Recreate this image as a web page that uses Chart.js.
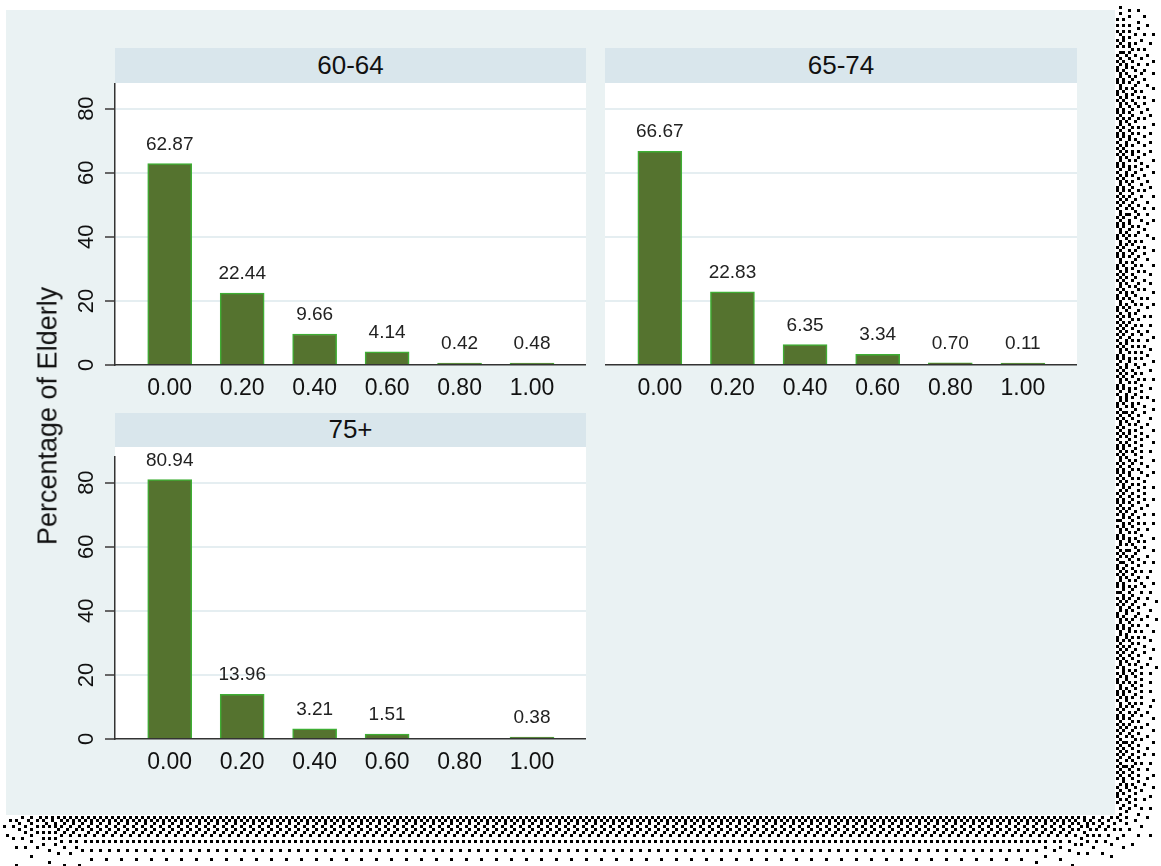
<!DOCTYPE html>
<html>
<head>
<meta charset="utf-8">
<script src="https://cdn.jsdelivr.net/npm/chart.js@4.4.1/dist/chart.umd.min.js"></script>
<style>
  html, body { margin: 0; padding: 0; background: #ffffff; }
  body { width: 1161px; height: 866px; position: relative; overflow: hidden;
         font-family: "Liberation Sans", Arial, sans-serif; }
  #shadow { position: absolute; left: 0; top: 0; }
  #frame { position: absolute; left: 6px; top: 10px; width: 1109px; height: 805px; background: #eaf2f3; }
  .strip { position: absolute; background: #d9e6ec; color: #111; font-size: 26px;
           text-align: center; white-space: nowrap; }
  .plotbg { position: absolute; background: #ffffff; }
  .panel { position: absolute; }
  .panel canvas { display: block; }
  #ytitle { position: absolute; left: 48px; top: 416px; font-size: 27px; color: #111;
            white-space: nowrap; transform: translate(-50%, -50%) rotate(-90deg); }
</style>
</head>
<body>
<canvas id="shadow" width="1161" height="866"></canvas>
<div id="frame"></div>

<div class="strip" id="strip1" style="left:115px;top:48px;width:471px;height:35px;line-height:34px;"></div>
<div class="strip" id="strip2" style="left:605px;top:48px;width:472px;height:35px;line-height:34px;"></div>
<div class="strip" id="strip3" style="left:115px;top:413px;width:471px;height:34px;line-height:33px;"></div>

<div class="plotbg" style="left:115px;top:83px;width:471px;height:282px;"></div>
<div class="plotbg" style="left:605px;top:83px;width:472px;height:282px;"></div>
<div class="plotbg" style="left:115px;top:447px;width:471px;height:292px;"></div>

<div class="panel" style="left:0px;top:83px;"><canvas id="c1" width="586" height="320"></canvas></div>
<div class="panel" style="left:605px;top:83px;"><canvas id="c2" width="472" height="320"></canvas></div>
<div class="panel" style="left:0px;top:437px;"><canvas id="c3" width="586" height="340"></canvas></div>

<div id="ytitle"></div>

<script>
// ---- data ----
const xCategories = ['0.00', '0.20', '0.40', '0.60', '0.80', '1.00'];
const yTicks = [0, 20, 40, 60, 80];
const panelTitles = ['60-64', '65-74', '75+'];
const yAxisTitle = 'Percentage of Elderly';
const share6064 = [62.87, 22.44, 9.66, 4.14, 0.42, 0.48];
const share6574 = [66.67, 22.83, 6.35, 3.34, 0.70, 0.11];
const share75plus = [80.94, 13.96, 3.21, 1.51, null, 0.38];

document.getElementById('strip1').textContent = panelTitles[0];
document.getElementById('strip2').textContent = panelTitles[1];
document.getElementById('strip3').textContent = panelTitles[2];
document.getElementById('ytitle').textContent = yAxisTitle;

// ---- dithered drop shadow along the right and bottom of the graph region ----
(function drawShadow() {
  const cv = document.getElementById('shadow');
  const ctx = cv.getContext('2d');
  const cell = 3;
  const GW = Math.ceil(cv.width / cell), GH = Math.ceil(cv.height / cell);
  function erf(x) {
    const z = Math.abs(x), t = 1 / (1 + 0.5 * z);
    const r = t * Math.exp(-z * z - 1.26551223 + t * (1.00002368 + t * (0.37409196 + t * (0.09678418 +
      t * (-0.18628806 + t * (0.27886807 + t * (-1.13520398 + t * (1.48851587 +
      t * (-0.82215223 + t * 0.17087277)))))))));
    return x >= 0 ? 1 - r : r - 1;
  }
  const off = 8, sig = 26, amp = 0.85, k = Math.SQRT2 * sig;
  const fx0 = 6, fx1 = 1115, fy0 = 10, fy1 = 815;
  const cover = (v, a, b) => 0.5 * (erf((v - a) / k) - erf((v - b) / k));
  const dens = new Float32Array(GW * GH);
  for (let gy = 0; gy < GH; gy++) {
    const py = gy * cell + cell / 2;
    for (let gx = 0; gx < GW; gx++) {
      const px = gx * cell + cell / 2;
      const outside = px >= fx1 || py >= fy1;
      dens[gy * GW + gx] = outside ? amp * cover(px, fx0 + off, fx1 + off) * cover(py, fy0 + off, fy1 + off) : 0;
    }
  }
  ctx.fillStyle = '#000';
  // serpentine Floyd-Steinberg error diffusion
  for (let gy = 0; gy < GH; gy++) {
    const ltr = gy % 2 === 0;
    const dir = ltr ? 1 : -1;
    for (let n = 0; n < GW; n++) {
      const gx = ltr ? n : GW - 1 - n;
      const i = gy * GW + gx;
      const v = dens[i];
      const on = v > 0.5 ? 1 : 0;
      const err = v - on;
      const nx = gx + dir, bx = gx - dir;
      if (nx >= 0 && nx < GW) dens[i + dir] += err * 7 / 16;
      if (gy + 1 < GH) {
        if (bx >= 0 && bx < GW) dens[i + GW - dir] += err * 3 / 16;
        dens[i + GW] += err * 5 / 16;
        if (nx >= 0 && nx < GW) dens[i + GW + dir] += err / 16;
      }
      if (on) ctx.fillRect(gx * cell, gy * cell, cell, cell);
    }
  }
})();

// ---- charts ----
Chart.defaults.font.family = '"Liberation Sans", Arial, sans-serif';

const valueLabels = {
  id: 'valueLabels',
  afterDatasetsDraw(chart) {
    const ctx = chart.ctx;
    ctx.save();
    ctx.font = '19px "Liberation Sans", Arial, sans-serif';
    ctx.fillStyle = '#222';
    ctx.textAlign = 'center';
    ctx.textBaseline = 'alphabetic';
    const meta = chart.getDatasetMeta(0);
    const data = chart.data.datasets[0].data;
    meta.data.forEach((bar, i) => {
      const v = data[i].y;
      if (v === null || v === undefined) return;
      ctx.fillText(v.toFixed(2), bar.x, bar.y - 14);
    });
    ctx.restore();
  }
};

function makePanel(id, values, showY, yAxisWidth, padTop) {
  return new Chart(document.getElementById(id), {
    type: 'bar',
    data: {
      datasets: [{
        data: xCategories.map((c, i) => ({ x: parseFloat(c), y: values[i] })),
        backgroundColor: '#55732f',
        borderColor: '#3fae34',
        borderWidth: 1.5,
        barThickness: 44,
        minBarLength: 2
      }]
    },
    options: {
      responsive: false,
      animation: false,
      layout: { padding: { top: padTop, left: 0, right: 0, bottom: 0 } },
      plugins: { legend: { display: false }, tooltip: { enabled: false } },
      scales: {
        x: {
          type: 'linear',
          offset: false,
          min: -0.151,
          max: 1.149,
          afterBuildTicks: s => { s.ticks = xCategories.map(c => ({ value: parseFloat(c) })); },
          afterFit: s => { s.height = 38; s.paddingLeft = 0; s.paddingRight = 0; },
          grid: { display: false, drawTicks: false },
          border: { display: true, color: '#333', width: 1.5 },
          ticks: {
            padding: 10, color: '#111', font: { size: 23 },
            maxRotation: 0, minRotation: 0, autoSkip: false,
            callback: (v, i) => xCategories[i]
          }
        },
        y: {
          min: 0,
          max: 88,
          afterBuildTicks: s => { s.ticks = yTicks.map(v => ({ value: v })); },
          afterFit: s => { s.width = yAxisWidth; s.paddingTop = 0; s.paddingBottom = 0; },
          grid: {
            color: c => (c.tick && c.tick.value === 0) ? 'rgba(0,0,0,0)' : '#e5eef1',
            lineWidth: 2,
            drawTicks: showY,
            tickLength: 10,
            tickColor: '#666',
            tickWidth: 2
          },
          border: { display: showY, color: '#333', width: 1.5 },
          ticks: {
            display: showY, color: '#111', font: { size: 22 },
            minRotation: 90, maxRotation: 90, crossAlign: 'center', padding: 6
          }
        }
      }
    },
    plugins: [valueLabels]
  });
}

makePanel('c1', share6064, true, 115, 0);
makePanel('c2', share6574, false, 0, 0);
makePanel('c3', share75plus, true, 115, 20);
</script>
</body>
</html>
